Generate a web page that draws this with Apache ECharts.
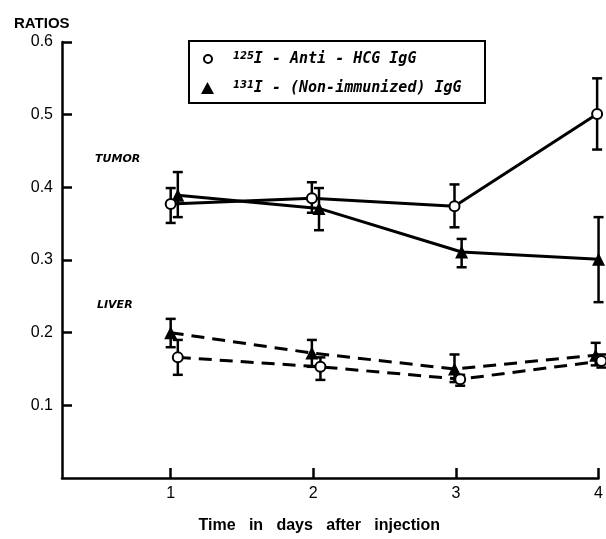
<!DOCTYPE html>
<html>
<head>
<meta charset="utf-8">
<script src="https://cdn.jsdelivr.net/npm/echarts@6/dist/echarts.min.js"></script>
<style>
html,body{margin:0;padding:0;background:#fff;}
#chart{width:606px;height:539px;}
</style>
</head>
<body>
<div id="chart"></div>
<script>
// ---- data ----
const dayTicks = [1, 2, 3, 4];
const yTicks = [0.1, 0.2, 0.3, 0.4, 0.5, 0.6];

const tumorAntiX = [1.0, 1.99, 2.99, 3.99];
const tumorAnti = [0.377, 0.385, 0.374, 0.501];
const tumorAntiLow = [0.351, 0.365, 0.345, 0.452];
const tumorAntiHigh = [0.399, 0.407, 0.404, 0.55];

const tumorNonX = [1.05, 2.04, 3.04, 4.0];
const tumorNon = [0.389, 0.371, 0.311, 0.301];
const tumorNonLow = [0.359, 0.341, 0.29, 0.242];
const tumorNonHigh = [0.421, 0.399, 0.329, 0.359];

const liverAntiX = [1.05, 2.05, 3.03, 4.02];
const liverAnti = [0.166, 0.153, 0.136, 0.161];
const liverAntiLow = [0.142, 0.135, 0.127, 0.152];
const liverAntiHigh = [0.19, 0.166, 0.142, 0.17];

const liverNonX = [1.0, 1.99, 2.99, 3.98];
const liverNon = [0.20, 0.172, 0.15, 0.169];
const liverNonLow = [0.18, 0.153, 0.132, 0.155];
const liverNonHigh = [0.219, 0.19, 0.17, 0.186];

const antiName = '125I - Anti - HCG IgG';
const nonName = '131I - (Non-immunized) IgG';

// ---- helpers ----
function pts(xs, ys) { return xs.map((x, i) => [x, ys[i]]); }
function bars(xs, lo, hi) { return xs.map((x, i) => [x, lo[i], hi[i]]); }

function errorSeries(data) {
  return {
    type: 'custom',
    data: data,
    encode: { x: 0, y: [1, 2] },
    z: 2,
    silent: true,
    clip: false,
    renderItem: function (params, api) {
      const x = api.value(0);
      const a = api.coord([x, api.value(1)]);
      const b = api.coord([x, api.value(2)]);
      const w = 5;
      const st = { stroke: '#000', lineWidth: 2.5 };
      return {
        type: 'group',
        children: [
          { type: 'line', shape: { x1: a[0], y1: a[1], x2: b[0], y2: b[1] }, style: st },
          { type: 'line', shape: { x1: a[0] - w, y1: a[1], x2: a[0] + w, y2: a[1] }, style: st },
          { type: 'line', shape: { x1: b[0] - w, y1: b[1], x2: b[0] + w, y2: b[1] }, style: st }
        ]
      };
    }
  };
}

function lineSeries(name, data, kind, dashed) {
  const isCircle = kind === 'circle';
  return {
    type: 'line',
    name: name,
    data: data,
    z: isCircle ? 4 : 3,
    clip: false,
    symbol: isCircle ? 'circle' : 'triangle',
    symbolSize: isCircle ? 10 : 13,
    itemStyle: isCircle
      ? { color: '#fff', borderColor: '#000', borderWidth: 2 }
      : { color: '#000', borderColor: '#000', borderWidth: 0 },
    lineStyle: { color: '#000', width: 3, type: dashed ? [13, 8] : 'solid' },
    emphasis: { disabled: true },
    animation: false
  };
}

const chart = echarts.init(document.getElementById('chart'), null, { renderer: 'canvas' });

const option = {
  backgroundColor: '#fff',
  animation: false,
  title: {
    text: 'RATIOS',
    left: 9,
    top: 11,
    textStyle: { fontFamily: 'Liberation Sans', fontWeight: 'bold', fontSize: 15, color: '#000' }
  },
  grid: { left: 62, right: 6, top: 42, bottom: 61, containLabel: false },
  xAxis: {
    type: 'value',
    min: 0.238,
    max: 4,
    name: 'Time   in   days   after   injection',
    nameLocation: 'middle',
    nameGap: 40,
    nameTextStyle: { fontFamily: 'Liberation Sans', fontWeight: 'bold', fontSize: 16, color: '#000', padding: [0, 22, 0, 0] },
    axisLine: { lineStyle: { color: '#000', width: 2.5 } },
    axisTick: { inside: true, length: 10, customValues: dayTicks, lineStyle: { color: '#000', width: 2.5 } },
    axisLabel: { customValues: dayTicks, margin: 8, fontFamily: 'Liberation Sans', fontSize: 16, color: '#000' },
    splitLine: { show: false }
  },
  yAxis: {
    type: 'value',
    min: 0,
    max: 0.6,
    interval: 0.1,
    axisLine: { show: true, lineStyle: { color: '#000', width: 2.5 } },
    axisTick: { show: true, inside: true, length: 10, customValues: yTicks, lineStyle: { color: '#000', width: 2.5 } },
    axisLabel: {
      customValues: yTicks,
      margin: 9,
      fontFamily: 'Liberation Sans',
      fontSize: 16,
      color: '#000',
      formatter: v => v.toFixed(1)
    },
    splitLine: { show: false }
  },
  graphic: [
    { type: 'text', left: 95, top: 154, style: { text: 'TUMOR', font: 'italic bold 11px "DejaVu Sans"', fill: '#000' } },
    { type: 'text', left: 97, top: 300, style: { text: 'LIVER', font: 'italic bold 11px "DejaVu Sans"', fill: '#000' } },
    { type: 'rect', shape: { x: 189, y: 41, width: 296, height: 62 }, style: { fill: 'none', stroke: '#000', lineWidth: 2 }, z: 10 },
    { type: 'circle', shape: { cx: 208, cy: 59, r: 4 }, style: { fill: '#fff', stroke: '#000', lineWidth: 2 }, z: 10 },
    { type: 'polygon', shape: { points: [[201, 94], [214, 94], [207.5, 82]] }, style: { fill: '#000' }, z: 10 },
    {
      type: 'text', x: 233, y: 51, z: 10,
      style: {
        text: '{s|125}{t|I - Anti - HCG IgG}',
        rich: {
          s: { font: 'italic bold 10px "DejaVu Sans"', fill: '#000', verticalAlign: 'top', lineHeight: 17 },
          t: { font: 'italic bold 15px "DejaVu Sans Mono"', fill: '#000', lineHeight: 17 }
        }
      }
    },
    {
      type: 'text', x: 233, y: 80, z: 10,
      style: {
        text: '{s|131}{t|I - (Non-immunized) IgG}',
        rich: {
          s: { font: 'italic bold 10px "DejaVu Sans"', fill: '#000', verticalAlign: 'top', lineHeight: 17 },
          t: { font: 'italic bold 15px "DejaVu Sans Mono"', fill: '#000', lineHeight: 17 }
        }
      }
    }
  ],
  series: [
    errorSeries(bars(tumorAntiX, tumorAntiLow, tumorAntiHigh)),
    errorSeries(bars(tumorNonX, tumorNonLow, tumorNonHigh)),
    errorSeries(bars(liverAntiX, liverAntiLow, liverAntiHigh)),
    errorSeries(bars(liverNonX, liverNonLow, liverNonHigh)),
    lineSeries(nonName, pts(tumorNonX, tumorNon), 'triangle', false),
    lineSeries(antiName, pts(tumorAntiX, tumorAnti), 'circle', false),
    lineSeries(nonName, pts(liverNonX, liverNon), 'triangle', true),
    lineSeries(antiName, pts(liverAntiX, liverAnti), 'circle', true)
  ]
};

chart.setOption(option);
</script>
</body>
</html>
